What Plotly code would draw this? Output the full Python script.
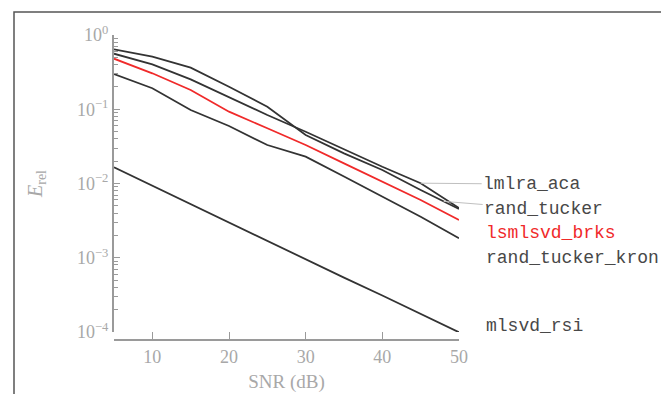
import numpy as np
import plotly.graph_objects as go

# ---------------- data ----------------
snr = [5, 10, 15, 20, 25, 30, 35, 40, 45, 50]
rand_tucker = [0.642, 0.510, 0.363, 0.201, 0.108, 0.0450, 0.0255, 0.0152, 0.00818, 0.00454]
lmlra_aca = [0.560, 0.403, 0.253, 0.145, 0.0837, 0.0498, 0.0289, 0.0168, 0.0101, 0.00468]
lsmlsvd_brks = [0.480, 0.305, 0.182, 0.0927, 0.0554, 0.0330, 0.0187, 0.0106, 0.00599, 0.00322]
rand_tucker_kron = [0.298, 0.192, 0.0977, 0.0595, 0.0330, 0.0230, 0.0124, 0.00664, 0.00357, 0.00183]
mlsvd_rsi = [0.0165, 0.0093, 0.0053, 0.0030, 0.0017, 0.00096, 0.00054, 0.00031, 0.000175, 0.0000991]

y_tickvals = [1, 0.1, 0.01, 0.001, 0.0001]
y_ticktext = ["10<sup>0</sup>", "10<sup>\u22121</sup>", "10<sup>\u22122</sup>",
              "10<sup>\u22123</sup>", "10<sup>\u22124</sup>"]
y_minor_vals = [m * d for d in [0.0001, 0.001, 0.01, 0.1] for m in range(2, 10)]
x_tickvals = [10, 20, 30, 40, 50]
x_title = "SNR (dB)"
y_title = "<i>E</i><sub>rel</sub>"

# ---------------- style ----------------
OFF = 8                      # default page body margin
W, H = 669 - OFF, 394 - OFF
L, R, T, B = 107 - OFF, 210, 35 - OFF, 54
PW, PH = W - L - R, H - T - B
YRANGE = [-4, 0]
DARK = "#333333"
RED = "#f02a2a"
GRAY_TXT = "#a8a8a8"
AXIS = "#9a9a9a"
TICK = "#9a9a9a"
LABEL = "#484848"
SERIF = "Liberation Serif, DejaVu Serif, serif"
MONO = "Liberation Mono, DejaVu Sans Mono, monospace"

series = [
    ("rand_tucker", rand_tucker, DARK),
    ("lmlra_aca", lmlra_aca, DARK),
    ("lsmlsvd_brks", lsmlsvd_brks, RED),
    ("rand_tucker_kron", rand_tucker_kron, DARK),
    ("mlsvd_rsi", mlsvd_rsi, DARK),
]

fig = go.Figure()
for name, vals, col in series:
    fig.add_trace(go.Scatter(x=snr, y=vals, mode="lines", name=name,
                             line=dict(color=col, width=1.8), showlegend=False))
# invisible helper trace so the overlaid minor-tick axis is drawn
fig.add_trace(go.Scatter(x=snr, y=mlsvd_rsi, yaxis="y2", mode="lines",
                         line=dict(width=0, color="rgba(0,0,0,0)"),
                         hoverinfo="skip", showlegend=False))

# labels
annotations = []
annotations.append(dict(x=45, y=np.log10(lmlra_aca[8]), xref="x", yref="y",
                        text="lmlra_aca", showarrow=True, arrowhead=0,
                        arrowcolor="#c0c0c0", arrowwidth=1, ax=111, ay=1,
                        font=dict(family=MONO, size=18, color=LABEL)))
tip_x = 48
tip_y = float(np.interp(tip_x, snr, np.log10(rand_tucker)))
annotations.append(dict(x=tip_x, y=tip_y, xref="x", yref="y",
                        text="rand_tucker", showarrow=True, arrowhead=0,
                        arrowcolor="#c0c0c0", arrowwidth=1, ax=100, ay=8,
                        font=dict(family=MONO, size=18, color=LABEL)))
for name, vals, col, ysh in [("lsmlsvd_brks", lsmlsvd_brks, RED, -13),
                             ("rand_tucker_kron", rand_tucker_kron, LABEL, -20),
                             ("mlsvd_rsi", mlsvd_rsi, LABEL, 6)]:
    annotations.append(dict(x=snr[-1], y=max(float(np.log10(vals[-1])), YRANGE[0]),
                            xref="x", yref="y",
                            text=name, showarrow=False, xanchor="left",
                            xshift=25, yshift=ysh,
                            font=dict(family=MONO, size=18, color=col)))

# outer frame (window pixel coordinates)
fx0, fx1, fy0, fy1 = 14 - OFF, 667 - OFF, 12 - OFF, 430
frame = dict(type="rect", xref="paper", yref="paper",
             x0=(fx0 - L) / PW, x1=(fx1 - L) / PW,
             y0=(H - B - fy1) / PH, y1=(H - B - fy0) / PH,
             line=dict(color="#555555", width=1.5), fillcolor="rgba(0,0,0,0)",
             layer="below")

common_y = dict(type="log", range=YRANGE, domain=[8 / PH, 1], anchor="x2",
                side="left", showgrid=False, zeroline=False, tickwidth=1,
                tickcolor=TICK, ticks="inside")

fig.update_layout(
    width=W, height=H,
    margin=dict(l=L, r=R, t=T, b=B, autoexpand=False),
    paper_bgcolor="white", plot_bgcolor="rgba(0,0,0,0)",
    annotations=annotations, shapes=[frame],
    xaxis=dict(range=[5, 50], domain=[7 / PW, 1], anchor="free", position=0,
               tickvals=x_tickvals, ticks="inside", ticklen=7, tickwidth=1,
               tickcolor=TICK, showline=True, linecolor=AXIS, linewidth=2,
               showgrid=False, zeroline=False,
               tickfont=dict(family=SERIF, size=18, color=GRAY_TXT),
               title=dict(text=x_title, standoff=8,
                          font=dict(family=SERIF, size=19, color=GRAY_TXT))),
    # hidden helper axis that only fixes where the y axis line sits
    xaxis2=dict(domain=[0, 1], range=[0, 1], visible=False, anchor="y"),
    yaxis=dict(**common_y, tickvals=y_tickvals, ticktext=y_ticktext, ticklen=6,
               showline=True, linecolor=AXIS, linewidth=2,
               tickfont=dict(family=SERIF, size=18, color=GRAY_TXT),
               title=dict(text=y_title, standoff=29,
                          font=dict(family=SERIF, size=20, color=GRAY_TXT))),
    yaxis2=dict(**common_y, overlaying="y", tickvals=y_minor_vals,
                ticktext=[""] * len(y_minor_vals), ticklen=4, showline=False),
)

fig.write_html("out.html")
